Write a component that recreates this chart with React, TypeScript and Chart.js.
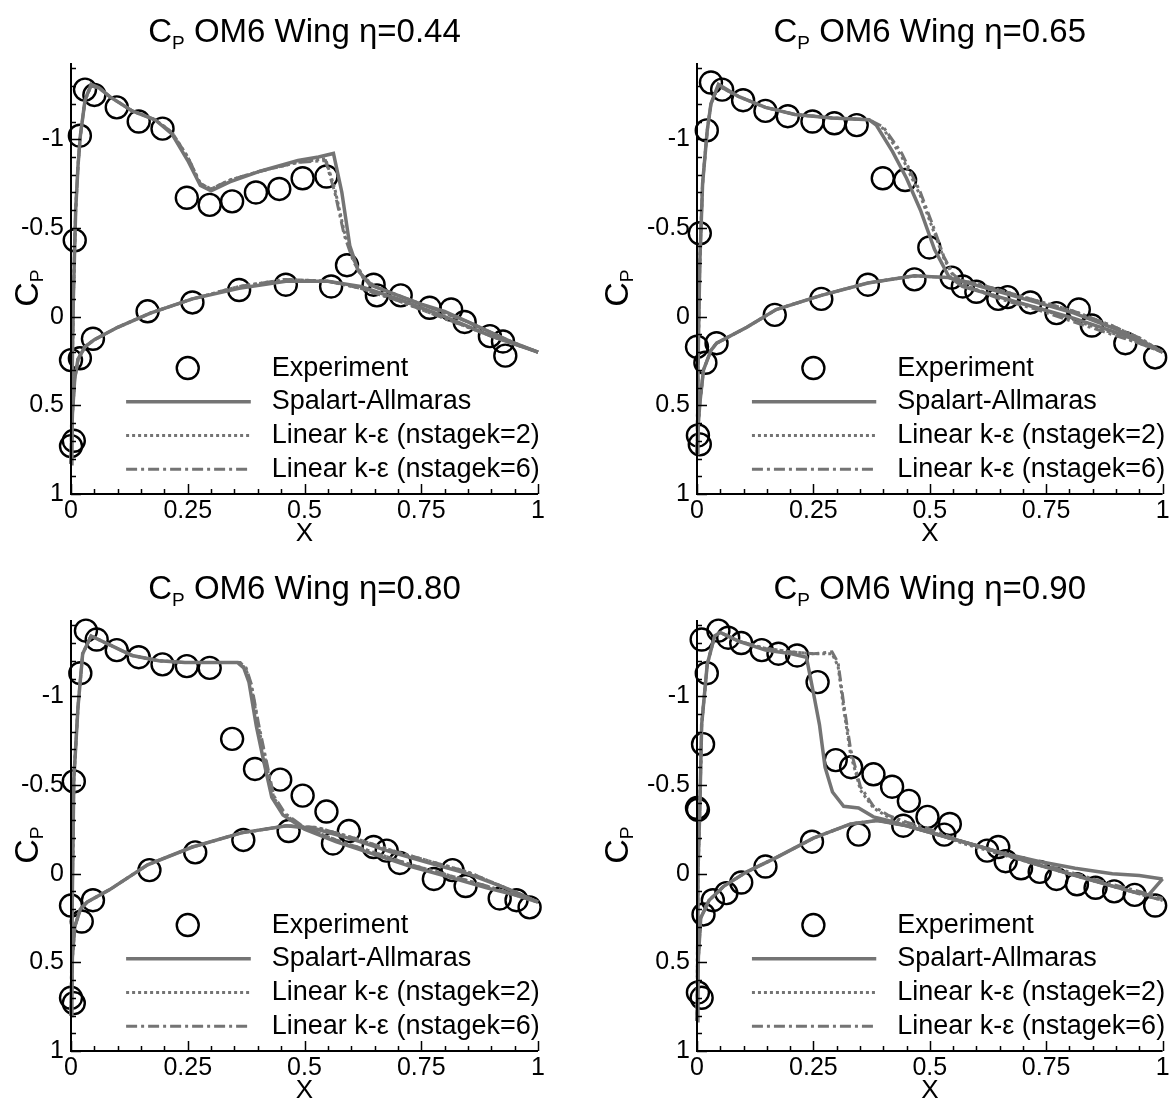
import React, { useEffect, useRef } from 'react';
import { Chart, registerables } from 'chart.js';

Chart.register(...registerables);

const FONT = '"Liberation Sans", Arial, Helvetica, sans-serif';
const LINE_GRAY = '#747474';

// ---------- axis ticks ----------
const xTickValues = [0, 0.25, 0.5, 0.75, 1];
const yTickValues = [-1, -0.5, 0, 0.5, 1];
const legendLabels = ['Experiment', 'Spalart-Allmaras', 'Linear k-ε (nstagek=2)', 'Linear k-ε (nstagek=6)'];

// ---------- eta = 0.44 ----------
const expX44 = [0.0, 0.006, 0.0, 0.019, 0.008, 0.019, 0.03, 0.05, 0.098, 0.145, 0.196, 0.248, 0.297, 0.345, 0.396, 0.446, 0.496, 0.547, 0.591, 0.648, 0.655, 0.706, 0.768, 0.814, 0.843, 0.897, 0.925, 0.93, 0.047, 0.164, 0.26, 0.36, 0.46, 0.557];
const expY44 = [0.73, 0.70, 0.245, 0.235, -0.43, -1.02, -1.28, -1.25, -1.18, -1.10, -1.06, -0.67, -0.63, -0.65, -0.70, -0.72, -0.78, -0.79, -0.29, -0.18, -0.12, -0.12, -0.05, -0.04, 0.03, 0.11, 0.14, 0.22, 0.125, -0.03, -0.08, -0.15, -0.18, -0.17];
const sa44UpperX = [0, 0.002, 0.005, 0.01, 0.015, 0.02, 0.03, 0.043, 0.06, 0.083, 0.131, 0.18, 0.216, 0.25, 0.277, 0.3, 0.34, 0.405, 0.486, 0.53, 0.562, 0.58, 0.597, 0.615, 0.64, 0.7, 0.75, 0.8, 0.85, 0.9, 0.95, 1.0];
const sa44UpperY = [0.83, 0.4, -0.1, -0.6, -0.85, -1.02, -1.22, -1.31, -1.29, -1.24, -1.16, -1.11, -1.03, -0.88, -0.74, -0.71, -0.76, -0.82, -0.88, -0.9, -0.92, -0.7, -0.4, -0.26, -0.18, -0.12, -0.07, -0.03, 0.03, 0.09, 0.15, 0.2];
const ke2_44UpperX = [0, 0.002, 0.005, 0.01, 0.015, 0.02, 0.03, 0.043, 0.06, 0.083, 0.131, 0.18, 0.216, 0.25, 0.277, 0.3, 0.34, 0.405, 0.486, 0.545, 0.565, 0.585, 0.605, 0.625, 0.65, 0.7, 0.75, 0.8, 0.85, 0.9, 0.95, 1.0];
const ke2_44UpperY = [0.83, 0.4, -0.1, -0.6, -0.85, -1.02, -1.22, -1.3, -1.29, -1.24, -1.16, -1.11, -1.04, -0.9, -0.75, -0.72, -0.77, -0.82, -0.87, -0.89, -0.72, -0.48, -0.32, -0.23, -0.17, -0.12, -0.07, -0.02, 0.03, 0.09, 0.15, 0.2];
const ke6_44UpperY = [0.83, 0.4, -0.1, -0.6, -0.85, -1.02, -1.22, -1.3, -1.29, -1.24, -1.16, -1.11, -1.04, -0.9, -0.75, -0.72, -0.77, -0.82, -0.87, -0.88, -0.7, -0.46, -0.31, -0.22, -0.17, -0.12, -0.07, -0.02, 0.03, 0.09, 0.15, 0.2];
const sa44LowerX = [0, 0.003, 0.008, 0.015, 0.03, 0.05, 0.1, 0.17, 0.26, 0.36, 0.46, 0.55, 0.62, 0.7, 0.8, 0.9, 1.0];
const sa44LowerY = [0.83, 0.55, 0.35, 0.24, 0.17, 0.13, 0.06, -0.02, -0.1, -0.16, -0.2, -0.2, -0.17, -0.1, 0.0, 0.11, 0.2];
const ke44LowerY = [0.83, 0.55, 0.35, 0.24, 0.17, 0.13, 0.06, -0.02, -0.1, -0.17, -0.21, -0.2, -0.16, -0.09, 0.01, 0.11, 0.2];

// ---------- eta = 0.65 ----------
const expX65 = [0.002, 0.006, 0.0, 0.018, 0.006, 0.021, 0.03, 0.054, 0.099, 0.147, 0.195, 0.248, 0.295, 0.343, 0.399, 0.447, 0.499, 0.547, 0.571, 0.6, 0.647, 0.667, 0.716, 0.772, 0.82, 0.848, 0.92, 0.984, 0.042, 0.167, 0.267, 0.367, 0.467];
const expY65 = [0.67, 0.72, 0.17, 0.26, -0.47, -1.05, -1.32, -1.28, -1.22, -1.16, -1.13, -1.10, -1.09, -1.08, -0.78, -0.77, -0.39, -0.22, -0.17, -0.14, -0.10, -0.11, -0.08, -0.02, -0.04, 0.05, 0.15, 0.23, 0.15, -0.01, -0.10, -0.18, -0.21];
const sa65UpperX = [0, 0.002, 0.006, 0.012, 0.022, 0.03, 0.046, 0.09, 0.147, 0.21, 0.29, 0.37, 0.385, 0.42, 0.45, 0.48, 0.51, 0.54, 0.57, 0.65, 0.73, 0.81, 0.89, 0.95, 1.0];
const sa65UpperY = [0.77, 0.3, -0.3, -0.75, -1.05, -1.2, -1.31, -1.24, -1.18, -1.14, -1.12, -1.11, -1.08, -0.93, -0.78, -0.6, -0.38, -0.23, -0.17, -0.11, -0.05, 0.01, 0.08, 0.14, 0.2];
const ke2_65UpperX = [0, 0.002, 0.006, 0.012, 0.022, 0.03, 0.046, 0.09, 0.147, 0.21, 0.29, 0.37, 0.4, 0.44, 0.48, 0.51, 0.53, 0.55, 0.58, 0.65, 0.73, 0.81, 0.89, 0.95, 1.0];
const ke2_65UpperY = [0.77, 0.3, -0.3, -0.75, -1.05, -1.2, -1.3, -1.24, -1.18, -1.14, -1.12, -1.11, -1.06, -0.9, -0.68, -0.47, -0.33, -0.23, -0.17, -0.11, -0.05, 0.02, 0.09, 0.15, 0.2];
const ke6_65UpperY = [0.77, 0.3, -0.3, -0.75, -1.05, -1.2, -1.3, -1.24, -1.18, -1.14, -1.12, -1.11, -1.07, -0.92, -0.7, -0.49, -0.34, -0.24, -0.17, -0.1, -0.04, 0.03, 0.1, 0.15, 0.2];
const sa65LowerX = [0, 0.003, 0.006, 0.014, 0.03, 0.042, 0.107, 0.17, 0.267, 0.367, 0.467, 0.54, 0.61, 0.716, 0.81, 0.89, 0.95, 1.0];
const sa65LowerY = [0.77, 0.6, 0.49, 0.3, 0.19, 0.15, 0.06, -0.04, -0.12, -0.19, -0.23, -0.22, -0.17, -0.09, -0.02, 0.06, 0.13, 0.2];
const ke65LowerY = [0.77, 0.6, 0.49, 0.3, 0.19, 0.15, 0.06, -0.04, -0.12, -0.19, -0.23, -0.22, -0.18, -0.1, -0.03, 0.05, 0.12, 0.2];

// ---------- eta = 0.80 ----------
const expX80 = [0.0, 0.006, 0.0, 0.023, 0.006, 0.02, 0.032, 0.055, 0.098, 0.145, 0.196, 0.248, 0.297, 0.345, 0.394, 0.448, 0.496, 0.547, 0.595, 0.648, 0.676, 0.704, 0.777, 0.817, 0.845, 0.918, 0.954, 0.982, 0.047, 0.168, 0.266, 0.369, 0.466, 0.561];
const expY80 = [0.70, 0.73, 0.18, 0.27, -0.52, -1.13, -1.37, -1.32, -1.26, -1.22, -1.18, -1.17, -1.16, -0.76, -0.59, -0.53, -0.44, -0.35, -0.24, -0.15, -0.13, -0.06, 0.03, -0.02, 0.07, 0.14, 0.15, 0.19, 0.15, -0.02, -0.12, -0.19, -0.24, -0.17];
const sa80UpperX = [0, 0.002, 0.006, 0.015, 0.025, 0.043, 0.083, 0.131, 0.188, 0.244, 0.3, 0.357, 0.37, 0.381, 0.397, 0.413, 0.43, 0.454, 0.5, 0.567, 0.648, 0.728, 0.81, 0.89, 0.95, 1.0];
const sa80UpperY = [0.8, 0.3, -0.53, -0.94, -1.24, -1.34, -1.29, -1.23, -1.2, -1.19, -1.19, -1.19, -1.16, -1.08, -0.83, -0.63, -0.43, -0.33, -0.25, -0.18, -0.11, -0.04, 0.02, 0.08, 0.12, 0.16];
const ke2_80UpperX = [0, 0.002, 0.006, 0.015, 0.025, 0.043, 0.083, 0.131, 0.188, 0.244, 0.3, 0.362, 0.375, 0.386, 0.402, 0.418, 0.434, 0.458, 0.5, 0.567, 0.648, 0.728, 0.81, 0.89, 0.95, 1.0];
const ke2_80UpperY = [0.8, 0.3, -0.53, -0.94, -1.24, -1.34, -1.29, -1.23, -1.2, -1.19, -1.19, -1.19, -1.15, -1.06, -0.82, -0.62, -0.43, -0.33, -0.26, -0.19, -0.12, -0.05, 0.01, 0.07, 0.12, 0.16];
const ke6_80UpperY = [0.8, 0.3, -0.53, -0.94, -1.24, -1.34, -1.29, -1.23, -1.2, -1.19, -1.19, -1.19, -1.16, -1.07, -0.84, -0.64, -0.44, -0.34, -0.26, -0.19, -0.12, -0.05, 0.01, 0.07, 0.12, 0.16];
const sa80LowerX = [0, 0.003, 0.008, 0.02, 0.035, 0.083, 0.164, 0.26, 0.365, 0.462, 0.527, 0.607, 0.688, 0.768, 0.849, 0.93, 1.0];
const sa80LowerY = [0.8, 0.47, 0.3, 0.2, 0.16, 0.09, -0.05, -0.15, -0.23, -0.27, -0.25, -0.19, -0.12, -0.06, 0.0, 0.08, 0.16];
const ke80LowerY = [0.8, 0.47, 0.3, 0.2, 0.16, 0.09, -0.05, -0.15, -0.23, -0.27, -0.26, -0.2, -0.13, -0.07, -0.01, 0.08, 0.16];

// ---------- eta = 0.90 ----------
const expX90 = [0.002, 0.01, 0.002, 0.0, 0.013, 0.021, 0.01, 0.046, 0.067, 0.095, 0.139, 0.175, 0.215, 0.259, 0.298, 0.331, 0.379, 0.419, 0.455, 0.495, 0.543, 0.531, 0.623, 0.647, 0.663, 0.696, 0.736, 0.772, 0.816, 0.856, 0.896, 0.94, 0.984, 0.014, 0.034, 0.063, 0.095, 0.147, 0.247, 0.347, 0.443];
const expY90 = [0.67, 0.70, -0.36, -0.37, -0.73, -1.13, -1.32, -1.37, -1.33, -1.30, -1.26, -1.24, -1.23, -1.08, -0.64, -0.60, -0.56, -0.49, -0.41, -0.32, -0.28, -0.22, -0.13, -0.15, -0.07, -0.03, -0.01, 0.03, 0.06, 0.08, 0.10, 0.12, 0.18, 0.23, 0.15, 0.11, 0.05, -0.04, -0.18, -0.22, -0.27];
const sa90UpperX = [0, 0.002, 0.006, 0.01, 0.022, 0.038, 0.05, 0.09, 0.147, 0.203, 0.235, 0.25, 0.263, 0.275, 0.291, 0.315, 0.347, 0.379, 0.41, 0.49, 0.571, 0.651, 0.732, 0.812, 0.892, 0.95, 1.0];
const sa90UpperY = [0.83, 0.0, -0.36, -0.84, -1.18, -1.34, -1.36, -1.31, -1.26, -1.24, -1.22, -1.02, -0.84, -0.6, -0.46, -0.38, -0.37, -0.32, -0.3, -0.24, -0.18, -0.12, -0.07, -0.03, 0.0, 0.01, 0.03];
const ke2_90UpperX = [0, 0.002, 0.006, 0.01, 0.022, 0.038, 0.05, 0.09, 0.147, 0.203, 0.25, 0.29, 0.303, 0.315, 0.33, 0.343, 0.351, 0.379, 0.41, 0.45, 0.49, 0.571, 0.651, 0.732, 0.812, 0.892, 0.95, 1.0];
const ke2_90UpperY = [0.83, 0.0, -0.36, -0.84, -1.18, -1.34, -1.36, -1.31, -1.27, -1.25, -1.24, -1.24, -1.17, -0.93, -0.67, -0.55, -0.47, -0.37, -0.32, -0.28, -0.25, -0.17, -0.11, -0.05, 0.01, 0.07, 0.11, 0.15];
const ke6_90UpperY = [0.83, 0.0, -0.36, -0.84, -1.18, -1.34, -1.36, -1.31, -1.27, -1.25, -1.24, -1.25, -1.19, -0.96, -0.7, -0.57, -0.49, -0.38, -0.33, -0.29, -0.26, -0.18, -0.12, -0.06, 0.0, 0.06, 0.1, 0.14];
const sa90LowerX = [0, 0.003, 0.008, 0.026, 0.058, 0.107, 0.17, 0.25, 0.33, 0.387, 0.45, 0.53, 0.611, 0.732, 0.852, 0.932, 0.97, 1.0];
const sa90LowerY = [0.83, 0.47, 0.25, 0.15, 0.07, -0.01, -0.09, -0.2, -0.28, -0.3, -0.27, -0.21, -0.15, -0.05, 0.04, 0.1, 0.12, 0.03];
const ke90LowerY = [0.83, 0.47, 0.25, 0.15, 0.07, -0.01, -0.09, -0.2, -0.28, -0.3, -0.27, -0.21, -0.15, -0.05, 0.04, 0.1, 0.13, 0.15];

// ---------- panel layout ----------
type PanelCfg = {
  eta: string;
  left: number; top: number; width: number; height: number;
  plotLeft: number; plotRight: number; plotTop: number; plotBottom: number;
  expX: number[]; expY: number[];
  saUX: number[]; saUY: number[]; saLX: number[]; saLY: number[];
  keUX: number[]; ke2UY: number[]; ke6UY: number[]; keLY: number[];
};

const panels: PanelCfg[] = [
  { eta: '0.44', left: 0, top: 0, width: 590, height: 557, plotLeft: 71, plotRight: 538, plotTop: 63, plotBottom: 494,
    expX: expX44, expY: expY44, saUX: sa44UpperX, saUY: sa44UpperY, saLX: sa44LowerX, saLY: sa44LowerY,
    keUX: ke2_44UpperX, ke2UY: ke2_44UpperY, ke6UY: ke6_44UpperY, keLY: ke44LowerY },
  { eta: '0.65', left: 590, top: 0, width: 586, height: 557, plotLeft: 107, plotRight: 574, plotTop: 63, plotBottom: 494,
    expX: expX65, expY: expY65, saUX: sa65UpperX, saUY: sa65UpperY, saLX: sa65LowerX, saLY: sa65LowerY,
    keUX: ke2_65UpperX, ke2UY: ke2_65UpperY, ke6UY: ke6_65UpperY, keLY: ke65LowerY },
  { eta: '0.80', left: 0, top: 557, width: 590, height: 542, plotLeft: 71, plotRight: 538, plotTop: 63, plotBottom: 494,
    expX: expX80, expY: expY80, saUX: sa80UpperX, saUY: sa80UpperY, saLX: sa80LowerX, saLY: sa80LowerY,
    keUX: ke2_80UpperX, ke2UY: ke2_80UpperY, ke6UY: ke6_80UpperY, keLY: ke80LowerY },
  { eta: '0.90', left: 590, top: 557, width: 586, height: 542, plotLeft: 107, plotRight: 574, plotTop: 63, plotBottom: 494,
    expX: expX90, expY: expY90, saUX: sa90UpperX, saUY: sa90UpperY, saLX: sa90LowerX, saLY: sa90LowerY,
    keUX: ke2_90UpperX, ke2UY: ke2_90UpperY, ke6UY: ke6_90UpperY, keLY: ke90LowerY },
];

const SA_DASH: number[] = [];
const KE2_DASH = [3, 3];
const KE6_DASH = [11, 4, 3, 4];
const SA_WIDTH = 3.5;
const KE_WIDTH = 3;
const CIRCLE_R = 11;
const CIRCLE_W = 2.4;

const pts = (xs: number[], ys: number[]) => xs.map((x, i) => ({ x, y: ys[i] }));

function lineDs(xs: number[], ys: number[], dash: number[], width: number) {
  return {
    data: pts(xs, ys),
    showLine: true,
    order: 0,
    borderColor: LINE_GRAY,
    backgroundColor: LINE_GRAY,
    borderWidth: width,
    borderDash: dash,
    pointRadius: 0,
    pointHoverRadius: 0,
    tension: 0,
    fill: false,
    clip: false as any,
  };
}

// draws main + subscript + rest, centered horizontally at x=0, baseline at y=0
function drawSubText(ctx: CanvasRenderingContext2D, main: string, sub: string, rest: string, size: number, subSize: number, subDy: number) {
  ctx.font = `${size}px ${FONT}`;
  const w1 = ctx.measureText(main).width;
  const w3 = ctx.measureText(rest).width;
  ctx.font = `${subSize}px ${FONT}`;
  const w2 = ctx.measureText(sub).width;
  const total = w1 + w2 + w3;
  let x = -total / 2;
  ctx.textAlign = 'left';
  ctx.textBaseline = 'alphabetic';
  ctx.font = `${size}px ${FONT}`;
  ctx.fillText(main, x, 0);
  x += w1;
  ctx.font = `${subSize}px ${FONT}`;
  ctx.fillText(sub, x, subDy);
  x += w2;
  ctx.font = `${size}px ${FONT}`;
  ctx.fillText(rest, x, 0);
}

const decorPlugin = {
  id: 'decor',
  afterDraw(chart: any, _args: any, opts: any) {
    const { ctx, chartArea: ca } = chart;
    const xs = chart.scales.x;
    const ys = chart.scales.y;
    ctx.save();
    ctx.fillStyle = '#000';
    ctx.strokeStyle = '#000';
    // axis lines
    ctx.lineWidth = 2;
    ctx.setLineDash([]);
    ctx.beginPath();
    ctx.moveTo(ca.left, ca.top);
    ctx.lineTo(ca.left, ca.bottom);
    ctx.lineTo(ca.right, ca.bottom);
    ctx.stroke();
    // inward ticks
    ctx.lineWidth = 1.5;
    ctx.beginPath();
    for (let k = -14; k <= 10; k++) {
      const py = Math.round(ys.getPixelForValue(k / 10)) + 0.5;
      const len = k % 5 === 0 ? 10 : 5;
      ctx.moveTo(ca.left, py);
      ctx.lineTo(ca.left + len, py);
    }
    for (let k = 0; k <= 20; k++) {
      const px = Math.round(xs.getPixelForValue(k / 20)) + 0.5;
      const len = k % 5 === 0 ? 10 : 5;
      ctx.moveTo(px, ca.bottom);
      ctx.lineTo(px, ca.bottom - len);
    }
    ctx.stroke();

    // title
    ctx.save();
    ctx.translate((ca.left + ca.right) / 2, 42);
    drawSubText(ctx, 'C', 'P', ` OM6 Wing η=${opts.eta}`, 33, 19, 7);
    ctx.restore();

    // y-axis title
    ctx.save();
    ctx.translate(38, ys.getPixelForValue(-0.16));
    ctx.rotate(-Math.PI / 2);
    drawSubText(ctx, 'C', 'P', '', 34, 19, 5);
    ctx.restore();

    // x-axis title
    ctx.font = `26px ${FONT}`;
    ctx.textAlign = 'center';
    ctx.textBaseline = 'middle';
    ctx.fillText('X', xs.getPixelForValue(0.5), ca.bottom + 40);

    // legend
    const rowVals = [0.29, 0.48, 0.67, 0.86];
    const lx0 = xs.getPixelForValue(0.118);
    const lx1 = xs.getPixelForValue(0.385);
    const tx = xs.getPixelForValue(0.43);
    const cx = xs.getPixelForValue(0.25);
    const dashes = [SA_DASH, KE2_DASH, KE6_DASH];
    const widths = [SA_WIDTH, KE_WIDTH, KE_WIDTH];
    rowVals.forEach((v, i) => {
      const py = ys.getPixelForValue(v);
      if (i === 0) {
        ctx.beginPath();
        ctx.setLineDash([]);
        ctx.lineWidth = CIRCLE_W;
        ctx.strokeStyle = '#000';
        ctx.arc(cx, py, CIRCLE_R, 0, Math.PI * 2);
        ctx.stroke();
      } else {
        ctx.beginPath();
        ctx.setLineDash(dashes[i - 1]);
        ctx.lineWidth = widths[i - 1];
        ctx.strokeStyle = LINE_GRAY;
        ctx.moveTo(lx0, py);
        ctx.lineTo(lx1, py);
        ctx.stroke();
      }
      ctx.setLineDash([]);
      ctx.fillStyle = '#000';
      ctx.font = `27px ${FONT}`;
      ctx.textAlign = 'left';
      ctx.textBaseline = 'middle';
      ctx.fillText(legendLabels[i], tx, py);
    });
    ctx.restore();
  },
};

function Panel({ cfg }: { cfg: PanelCfg }) {
  const ref = useRef<HTMLCanvasElement>(null);
  useEffect(() => {
    const canvas = ref.current;
    if (!canvas) return;
    const datasets: any[] = [
      {
        label: legendLabels[0],
        data: pts(cfg.expX, cfg.expY),
        showLine: false,
        order: 1,
        pointRadius: CIRCLE_R,
        pointHoverRadius: CIRCLE_R,
        pointBorderWidth: CIRCLE_W,
        pointBorderColor: '#000',
        pointBackgroundColor: 'rgba(0,0,0,0)',
        borderColor: '#000',
        backgroundColor: 'rgba(0,0,0,0)',
        clip: false,
      },
      lineDs(cfg.saUX, cfg.saUY, SA_DASH, SA_WIDTH),
      lineDs(cfg.saLX, cfg.saLY, SA_DASH, SA_WIDTH),
      lineDs(cfg.keUX, cfg.ke2UY, KE2_DASH, KE_WIDTH),
      lineDs(cfg.saLX, cfg.keLY, KE2_DASH, KE_WIDTH),
      lineDs(cfg.keUX, cfg.ke6UY, KE6_DASH, KE_WIDTH),
      lineDs(cfg.saLX, cfg.keLY, KE6_DASH, KE_WIDTH),
    ];
    const tickFont = { family: FONT, size: 25 };
    const chart = new Chart(canvas, {
      type: 'scatter',
      data: { datasets },
      plugins: [decorPlugin],
      options: {
        animation: false,
        responsive: false,
        devicePixelRatio: 1,
        events: [],
        layout: {
          padding: { top: cfg.plotTop, right: cfg.width - cfg.plotRight, left: 0, bottom: 0 },
        },
        plugins: {
          legend: { display: false },
          tooltip: { enabled: false },
          title: { display: false },
          decor: { eta: cfg.eta },
        } as any,
        scales: {
          x: {
            type: 'linear',
            min: 0,
            max: 1,
            grid: { display: false, drawTicks: false },
            border: { display: false },
            ticks: {
              font: tickFont,
              color: '#000',
              padding: 2,
              maxRotation: 0,
              autoSkip: false,
              callback: (v: any) => String(v),
            },
            afterBuildTicks: (s: any) => { s.ticks = xTickValues.map((v) => ({ value: v })); },
            afterFit: (s: any) => { s.height = cfg.height - cfg.plotBottom; },
          },
          y: {
            type: 'linear',
            reverse: true,
            min: -1.43,
            max: 1,
            grid: { display: false, drawTicks: false },
            border: { display: false },
            ticks: {
              font: tickFont,
              color: '#000',
              padding: 7,
              autoSkip: false,
              callback: (v: any) => String(v),
            },
            afterBuildTicks: (s: any) => { s.ticks = yTickValues.map((v) => ({ value: v })); },
            afterFit: (s: any) => { s.width = cfg.plotLeft; },
          },
        },
      } as any,
    });
    return () => chart.destroy();
  }, [cfg]);
  return (
    <canvas
      ref={ref}
      width={cfg.width}
      height={cfg.height}
      style={{ position: 'absolute', left: cfg.left, top: cfg.top, width: cfg.width, height: cfg.height }}
    />
  );
}

export default function App() {
  return (
    <div style={{ position: 'absolute', left: 0, top: 0, width: 1176, height: 1099, background: '#fff', overflow: 'hidden' }}>
      {panels.map((p) => (
        <Panel key={p.eta} cfg={p} />
      ))}
    </div>
  );
}
